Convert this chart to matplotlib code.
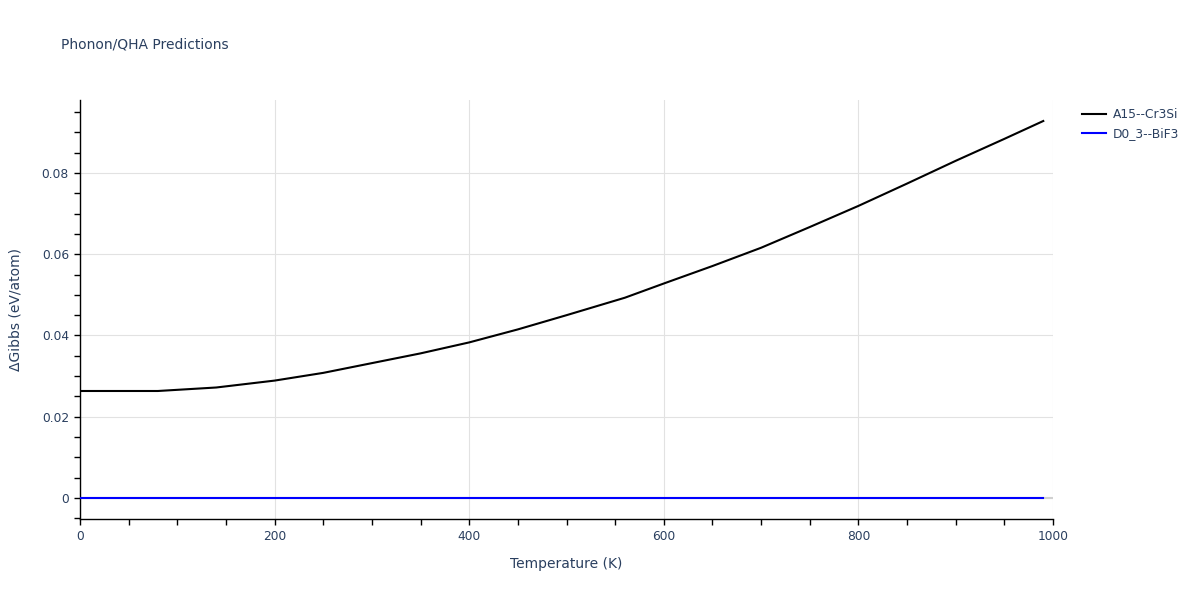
import matplotlib
matplotlib.use("Agg")
import matplotlib.pyplot as plt
from matplotlib.ticker import MultipleLocator

temperature = [0, 80, 140, 200, 250, 300, 350, 400, 450, 500, 560, 600, 650, 700, 750, 800, 850, 900, 950, 990]
a15_cr3si = [0.02634, 0.02634, 0.0272, 0.0289, 0.0308, 0.0332, 0.0356, 0.0383, 0.0415, 0.0450, 0.0493,
             0.0528, 0.0571, 0.0616, 0.0667, 0.0719, 0.0774, 0.0830, 0.0884, 0.0928]
d0_3_bif3 = [0.0] * len(temperature)

series_names = ["A15--Cr3Si", "D0_3--BiF3"]
series_colors = ["black", "blue"]

text_color = "#2a3f5f"
plt.rcParams['font.family'] = ['DejaVu Sans']

fig = plt.figure(figsize=(12, 6), dpi=100)
ax = fig.add_axes([80/1200, 1-519/600, (1053-80)/1200, (519-100)/600])

ax.axhline(0, color="#d0d0d0", lw=1.5, zorder=1)
ax.plot(temperature, a15_cr3si, color=series_colors[0], lw=1.5, label=series_names[0], zorder=3)
ax.plot(temperature, d0_3_bif3, color=series_colors[1], lw=1.5, label=series_names[1], zorder=3)

ax.set_xlim(0, 1000)
ax.set_ylim(-0.00517, 0.09797)
ax.xaxis.set_minor_locator(MultipleLocator(50))
ax.yaxis.set_minor_locator(MultipleLocator(0.005))
ax.set_yticks([0, 0.02, 0.04, 0.06, 0.08])
ax.set_yticklabels(["0", "0.02", "0.04", "0.06", "0.08"])
ax.set_xticks([0, 200, 400, 600, 800, 1000])
ax.set_xticklabels(["0", "200", "400", "600", "800", "1000"])

ax.grid(True, which="major", color="#e2e2e2", lw=0.8, zorder=0)
ax.set_axisbelow(True)
for s in ["top", "right"]:
    ax.spines[s].set_visible(False)
for s in ["left", "bottom"]:
    ax.spines[s].set_color("black")
    ax.spines[s].set_linewidth(1)

ax.tick_params(which="both", direction="out", colors="black", labelcolor=text_color, labelsize=8.8, length=4, width=1)
ax.tick_params(which="major", pad=4)

ax.set_xlabel("Temperature (K)", color=text_color, fontsize=10, labelpad=10)
ax.set_ylabel("ΔGibbs (eV/atom)", color=text_color, fontsize=10, labelpad=14)
fig.text(61/1200, 1-45/600, "Phonon/QHA Predictions", color=text_color, fontsize=10, va="center", ha="left")

leg = ax.legend(loc="upper left", bbox_to_anchor=(997/973, 1 - 3/419), frameon=False, fontsize=8.8,
                handlelength=2.0, labelspacing=0.5, borderaxespad=0, handletextpad=0.5)
for t in leg.get_texts():
    t.set_color(text_color)

fig.savefig("out.png", dpi=100)
